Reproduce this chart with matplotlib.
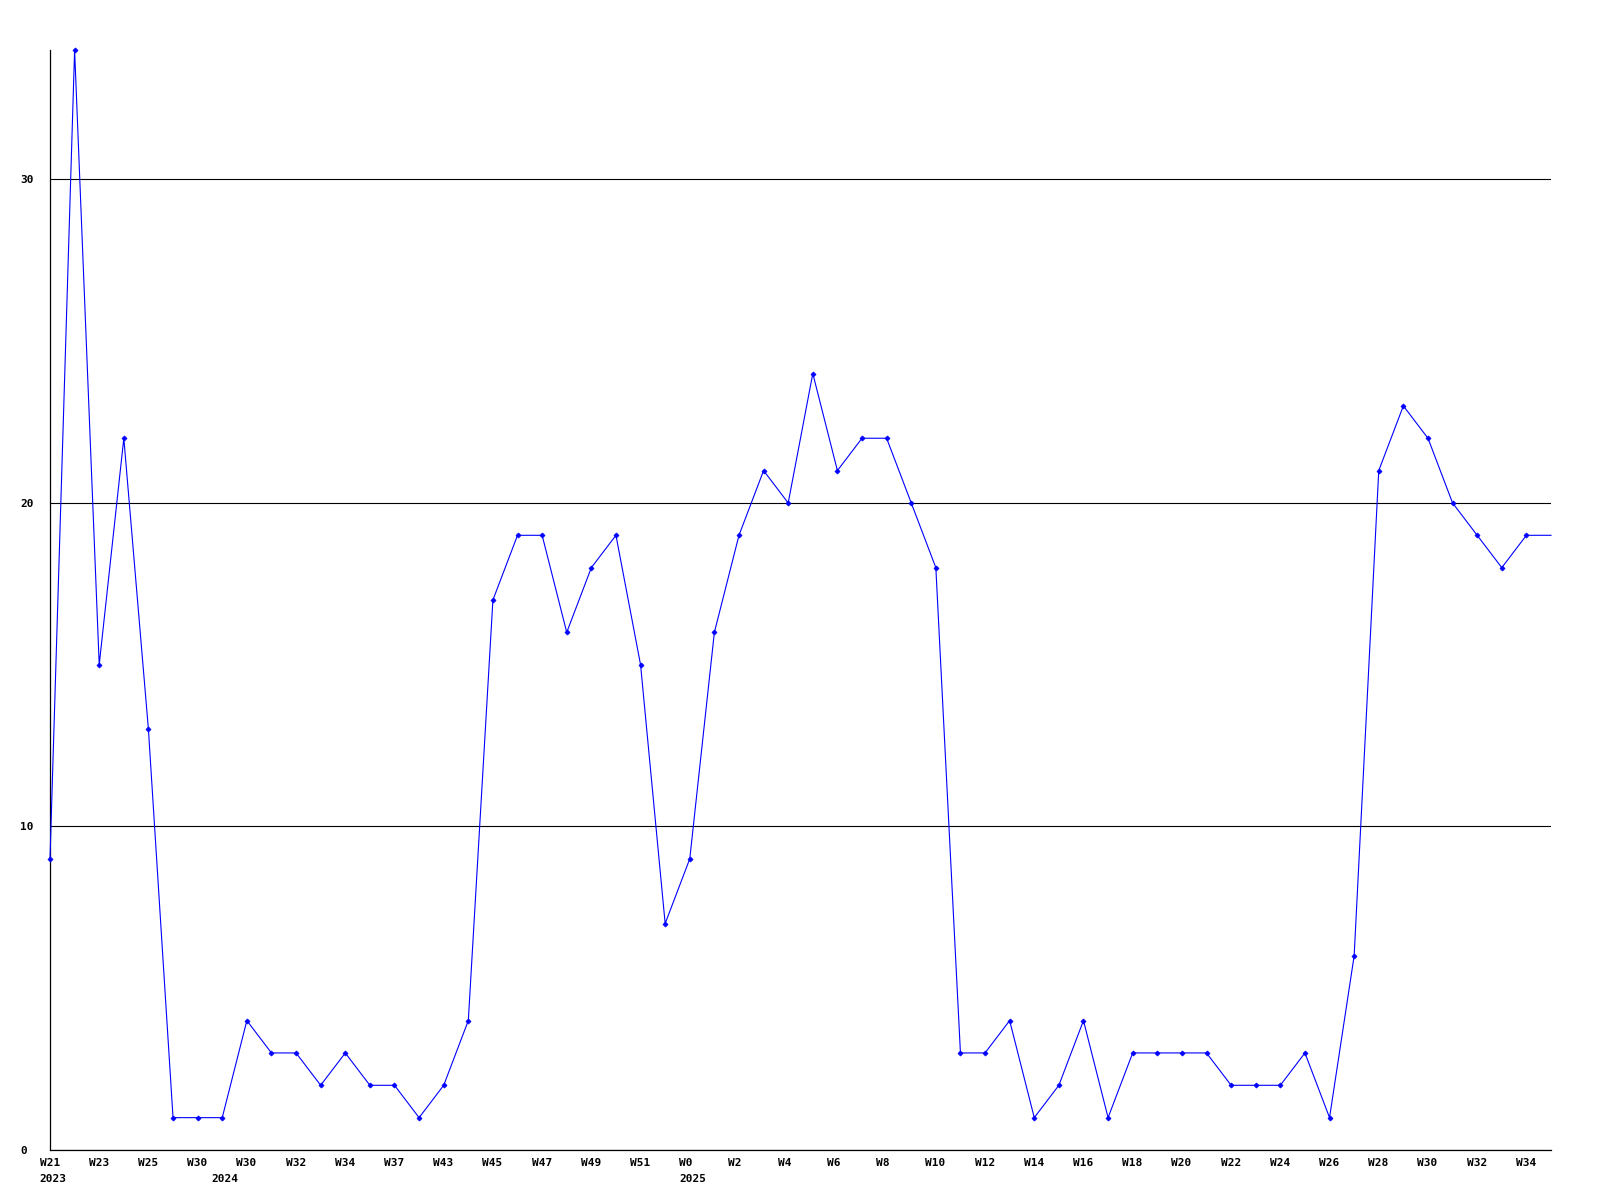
import matplotlib
matplotlib.use("Agg")
import matplotlib.pyplot as plt
import matplotlib.transforms as mtransforms

values = [9, 34, 15, 22, 13, 1, 1, 1, 4, 3, 3, 2, 3, 2, 2, 1, 2, 4, 17, 19,
          19, 16, 18, 19, 15, 7, 9, 16, 19, 21, 20, 24, 21, 22, 22, 20, 18, 3, 3, 4,
          1, 2, 4, 1, 3, 3, 3, 3, 2, 2, 2, 3, 1, 6, 21, 23, 22, 20, 19, 18,
          19, 19]
week_labels = ["W21", "W23", "W25", "W30", "W30", "W32", "W34", "W37", "W43", "W45",
               "W47", "W49", "W51", "W0", "W2", "W4", "W6", "W8", "W10", "W12",
               "W14", "W16", "W18", "W20", "W22", "W24", "W26", "W28", "W30", "W32", "W34"]
year_labels = ["2023", "2024", "2025"]
year_positions = [0, 7, 26]
y_ticks = [0, 10, 20, 30]

fig = plt.figure(figsize=(16, 12), dpi=100)
ax = fig.add_axes([50/1600, 50/1200, 1501/1600, 1100/1200])

x = list(range(len(values)))
ax.plot(x, values, color="#0000ff", lw=0.8, marker="D", markersize=2.6,
        markeredgewidth=0.5, zorder=3, clip_on=False,
        markevery=list(range(len(values) - 1)))

ax.set_xlim(0, len(values) - 1)
ax.set_ylim(0, 34)

for s in ["top", "right"]:
    ax.spines[s].set_visible(False)
for s in ["left", "bottom"]:
    ax.spines[s].set_color("black")
    ax.spines[s].set_linewidth(0.9)

ax.set_yticks(y_ticks)
ax.set_yticklabels([str(v) for v in y_ticks], fontfamily="DejaVu Sans Mono",
                   fontweight="bold", fontsize=8, ha="left")
ax.tick_params(axis="y", length=0, pad=21.6)
ax.grid(axis="y", color="black", lw=0.8, zorder=1)

ax.set_xticks(x[::2][:len(week_labels)])
ax.set_xticklabels(week_labels, fontfamily="DejaVu Sans Mono",
                   fontweight="bold", fontsize=8, ha="left")
ax.tick_params(axis="x", length=0, pad=6)
offset = mtransforms.ScaledTranslation(-10.5/100, 0, fig.dpi_scale_trans)
for lbl in ax.get_xticklabels():
    lbl.set_transform(lbl.get_transform() + offset)

for pos, yl in zip(year_positions, year_labels):
    ax.annotate(yl, xy=(pos, 0), xycoords=("data", "axes fraction"),
                xytext=(-10.5, -24), textcoords="offset pixels",
                ha="left", va="top", fontfamily="DejaVu Sans Mono",
                fontweight="bold", fontsize=8)

fig.savefig("out.png", dpi=100, facecolor="white")
